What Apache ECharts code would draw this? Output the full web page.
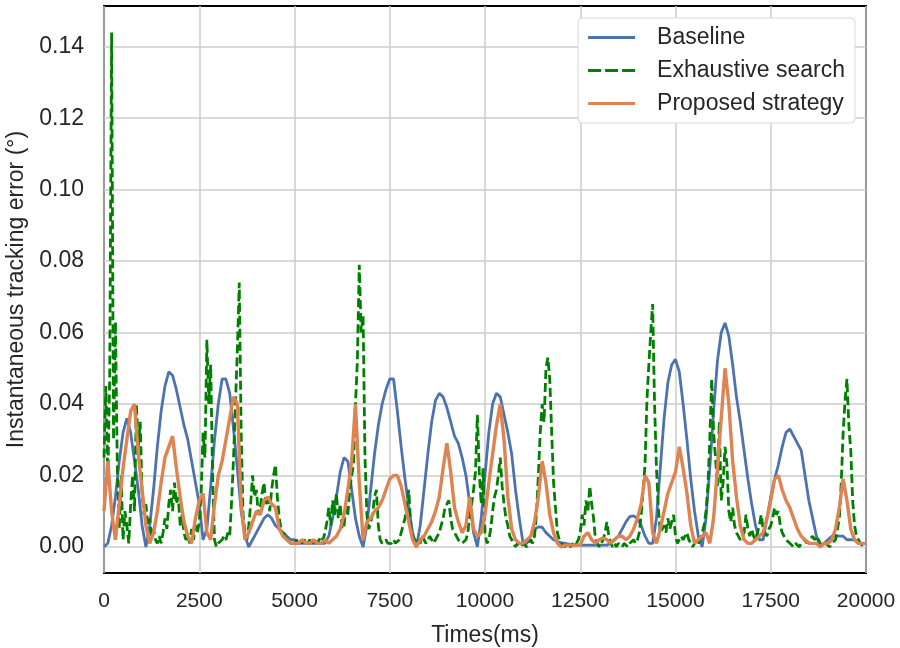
<!DOCTYPE html>
<html>
<head>
<meta charset="utf-8">
<script src="https://cdn.jsdelivr.net/npm/echarts@6/dist/echarts.min.js"></script>
<style>html,body{margin:0;padding:0;background:#fff}#c{width:900px;height:648px}</style>
</head>
<body>
<div id="c"></div>
<script>
// ---- data ----
const seriesNames = ['Baseline', 'Exhaustive search', 'Proposed strategy'];
const xTicks = [0, 2500, 5000, 7500, 10000, 12500, 15000, 17500, 20000];
const yTicks = [0, 0.02, 0.04, 0.06, 0.08, 0.10, 0.12, 0.14];
const baselineStep = 100;   // ms between baseline samples
const proposedStep = 100;   // ms between proposed samples
const exhaustiveStep = 50;  // ms between exhaustive samples

const baseline = [
0.000,0.001,0.006,0.014,0.024,0.032,0.036,0.032,0.024,0.016,0.006,0.000,0.006,0.016,0.028,0.038,0.045,0.049,0.048,0.044,0.039,0.034,0.030,0.024,0.018,
0.012,0.002,0.005,0.017,0.030,0.040,0.047,0.047,0.043,0.033,0.022,0.010,0.003,0.000,0.002,0.004,0.006,0.008,0.009,0.008,0.006,0.005,0.004,0.003,0.002,
0.002,0.001,0.001,0.001,0.001,0.001,0.001,0.001,0.001,0.003,0.008,0.014,0.021,0.025,0.024,0.016,0.008,0.003,0.000,0.006,0.016,0.026,0.034,0.040,0.044,
0.047,0.047,0.038,0.028,0.019,0.011,0.004,0.000,0.006,0.016,0.026,0.035,0.041,0.043,0.042,0.039,0.035,0.031,0.029,0.025,0.020,0.012,0.004,0.000,0.008,
0.020,0.032,0.040,0.043,0.042,0.037,0.032,0.026,0.016,0.008,0.001,0.001,0.003,0.005,0.0056,0.0055,0.004,0.003,0.002,0.0015,0.0012,0.001,0.0008,0.0006,0.0005,
0.0005,0.0005,0.0005,0.0005,0.0005,0.0005,0.0005,0.0005,0.001,0.002,0.003,0.005,0.007,0.0085,0.0087,0.008,0.006,0.003,0.001,0.001,0.008,0.022,0.036,0.046,0.051,
0.0525,0.049,0.040,0.030,0.019,0.010,0.003,0.000,0.008,0.022,0.038,0.052,0.060,0.0627,0.059,0.051,0.042,0.035,0.027,0.019,0.012,0.006,0.002,0.002,0.008,
0.014,0.019,0.023,0.028,0.032,0.033,0.031,0.029,0.027,0.020,0.013,0.008,0.003,0.000,0.001,0.002,0.003,0.003,0.003,0.003,0.002,0.002,0.002,0.001,0.001,0.001
];

const exhaustive = [
0.025,0.045,0.018,0.048,0.144,0.030,0.063,0.022,0.005,0.020,0.002,0.010,0.006,0.001,0.012,0.020,0.010,0.040,0.028,0.035,0.015,0.009,0.012,0.006,0.008,0.003,0.005,0.002,0.001,0.003,0.001,0.004,0.008,0.005,0.012,0.016,0.010,0.018,0.012,0.014,0.006,0.009,0.004,0.002,0.003,0.001,0.005,0.002,0.006,0.004,
0.007,0.015,0.032,0.025,0.058,0.040,0.051,0.020,0.002,0.000,0.001,0.001,0.002,0.003,0.002,0.004,0.003,0.013,0.025,0.040,0.055,0.074,0.032,0.009,0.004,0.002,0.006,0.012,0.020,0.014,0.016,0.009,0.011,0.015,0.018,0.012,0.014,0.010,0.016,0.020,0.023,0.014,0.008,0.005,0.003,0.004,0.002,0.002,0.001,0.001,
0.001,0.002,0.001,0.002,0.001,0.002,0.002,0.001,0.002,0.001,0.001,0.002,0.001,0.002,0.003,0.002,0.004,0.007,0.011,0.006,0.013,0.009,0.015,0.008,0.012,0.005,0.006,0.011,0.009,0.016,0.020,0.023,0.040,0.052,0.079,0.060,0.065,0.025,0.009,0.005,0.007,0.009,0.014,0.016,0.006,0.002,0.001,0.001,0.002,0.001,
0.001,0.001,0.002,0.001,0.001,0.002,0.004,0.006,0.008,0.012,0.016,0.006,0.003,0.002,0.001,0.002,0.001,0.003,0.002,0.001,0.002,0.003,0.002,0.001,0.002,0.003,0.004,0.006,0.008,0.011,0.012,0.013,0.008,0.005,0.004,0.003,0.002,0.002,0.001,0.001,0.002,0.004,0.009,0.012,0.016,0.021,0.037,0.021,0.012,0.022,
0.004,0.001,0.002,0.005,0.010,0.014,0.016,0.020,0.025,0.017,0.012,0.008,0.006,0.003,0.002,0.001,0.000,0.001,0.001,0.000,0.001,0.001,0.000,0.001,0.002,0.001,0.003,0.009,0.020,0.032,0.040,0.035,0.050,0.053,0.047,0.032,0.018,0.011,0.004,0.002,0.001,0.001,0.000,0.001,0.001,0.000,0.001,0.000,0.001,0.002,
0.004,0.009,0.006,0.013,0.010,0.017,0.012,0.008,0.002,0.001,0.000,0.001,0.002,0.004,0.007,0.003,0.001,0.000,0.001,0.000,0.001,0.001,0.000,0.001,0.001,0.000,0.001,0.001,0.002,0.001,0.002,0.004,0.009,0.016,0.023,0.041,0.051,0.060,0.068,0.040,0.022,0.011,0.004,0.005,0.006,0.004,0.008,0.005,0.007,0.009,
0.003,0.001,0.002,0.003,0.002,0.003,0.004,0.002,0.001,0.000,0.001,0.002,0.001,0.002,0.004,0.006,0.010,0.017,0.030,0.047,0.032,0.025,0.017,0.035,0.013,0.018,0.028,0.023,0.010,0.007,0.011,0.006,0.004,0.003,0.002,0.003,0.004,0.009,0.005,0.003,0.005,0.003,0.002,0.004,0.006,0.009,0.005,0.004,0.003,0.005,
0.006,0.008,0.011,0.009,0.010,0.006,0.004,0.003,0.002,0.002,0.001,0.001,0.000,0.001,0.001,0.000,0.001,0.001,0.002,0.001,0.002,0.002,0.003,0.002,0.003,0.002,0.001,0.000,0.000,0.001,0.001,0.000,0.001,0.001,0.002,0.005,0.008,0.018,0.032,0.041,0.047,0.034,0.027,0.013,0.006,0.003,0.002,0.001,0.001,0.000,0.000
];

const proposed = [
0.010,0.024,0.010,0.002,0.012,0.022,0.030,0.038,0.040,0.026,0.016,0.006,0.001,0.004,0.010,0.018,0.025,0.028,0.031,0.022,0.014,0.007,0.003,0.001,0.008,
0.013,0.015,0.004,0.002,0.012,0.020,0.024,0.030,0.036,0.042,0.040,0.012,0.002,0.004,0.007,0.010,0.009,0.013,0.014,0.012,0.011,0.005,0.003,0.002,0.001,
0.001,0.001,0.002,0.001,0.001,0.002,0.001,0.001,0.002,0.001,0.002,0.003,0.005,0.009,0.016,0.024,0.040,0.018,0.002,0.007,0.008,0.010,0.011,0.013,0.016,
0.019,0.020,0.020,0.017,0.012,0.007,0.002,0.000,0.002,0.003,0.005,0.007,0.010,0.014,0.022,0.029,0.021,0.011,0.007,0.004,0.006,0.014,0.005,0.003,0.004,
0.009,0.018,0.026,0.034,0.040,0.030,0.014,0.005,0.002,0.001,0.001,0.002,0.003,0.007,0.014,0.024,0.018,0.009,0.004,0.001,0.000,0.0005,0.0005,0.0005,0.0005,
0.0005,0.003,0.004,0.002,0.001,0.002,0.0025,0.002,0.001,0.002,0.003,0.003,0.002,0.003,0.005,0.008,0.012,0.020,0.018,0.004,0.001,0.005,0.010,0.015,0.018,
0.021,0.028,0.022,0.015,0.006,0.001,0.002,0.003,0.004,0.001,0.008,0.022,0.036,0.050,0.040,0.024,0.014,0.006,0.002,0.001,0.001,0.002,0.003,0.004,0.008,
0.013,0.019,0.020,0.016,0.013,0.011,0.008,0.005,0.003,0.002,0.001,0.001,0.001,0.000,0.001,0.001,0.002,0.005,0.011,0.019,0.013,0.005,0.002,0.001,0.001,0.001
];

// ---- build ----
function pairs(vals, step) { return vals.map((v, i) => [i * step, v]); }
const FONT = '"Liberation Sans", Arial, sans-serif';
const TXT = '#262626';
const colors = ['#4C72B0', '#008000', '#DD8452'];
const solidIcon = 'path://M0,0H47V3H0Z';
const dashIcon = 'path://M0,0H13V3H0Z M17,0H30V3H17Z M34,0H47V3H34Z';

const chart = echarts.init(document.getElementById('c'), null, { renderer: 'canvas' });
chart.setOption({
  animation: false,
  backgroundColor: '#ffffff',
  textStyle: { fontFamily: FONT },
  grid: { left: 104, right: 34, top: 6, bottom: 75, show: true, borderColor: '#000', borderWidth: 2,
          backgroundColor: 'transparent', containLabel: false, outerBoundsMode: 'none' },
  legend: {
    data: [
      { name: seriesNames[0], icon: solidIcon },
      { name: seriesNames[1], icon: dashIcon },
      { name: seriesNames[2], icon: solidIcon }
    ],
    right: 45, top: 18,
    orient: 'vertical',
    itemWidth: 47, itemHeight: 3, itemGap: 10,
    padding: [8, 10, 8, 10],
    backgroundColor: '#ffffff',
    borderColor: '#d9d9d9', borderWidth: 1, borderRadius: 4,
    textStyle: { fontSize: 23, color: TXT, fontFamily: FONT, padding: [0, 0, 0, 17] }
  },
  xAxis: {
    type: 'value', min: 0, max: 20000, interval: 2500,
    name: 'Times(ms)', nameLocation: 'middle', nameGap: 51,
    nameTextStyle: { fontSize: 23, color: TXT, fontFamily: FONT },
    axisLine: { show: false }, axisTick: { show: false },
    axisLabel: { fontSize: 21, color: TXT, margin: 18, fontFamily: FONT, formatter: v => String(v) },
    splitLine: { show: true, lineStyle: { color: '#cccccc', width: 1.5 } }
  },
  yAxis: {
    type: 'value', min: -0.0073, max: 0.1514,
    name: 'Instantaneous tracking error (°)', nameLocation: 'middle', nameGap: 76,
    nameTextStyle: { fontSize: 23, color: TXT, fontFamily: FONT },
    axisLine: { show: false },
    axisTick: { show: false, customValues: yTicks },
    axisLabel: { fontSize: 23, color: TXT, margin: 20, fontFamily: FONT, customValues: yTicks, formatter: v => v.toFixed(2) },
    splitLine: { show: true, lineStyle: { color: '#cccccc', width: 1.5 } }
  },
  series: [
    { name: seriesNames[0], type: 'line', data: pairs(baseline, baselineStep), symbol: 'none',
      lineStyle: { color: colors[0], width: 2.8 }, itemStyle: { color: colors[0] }, z: 2 },
    { name: seriesNames[1], type: 'line', data: pairs(exhaustive, exhaustiveStep), symbol: 'none',
      lineStyle: { color: colors[1], width: 2.8, type: [9, 4] }, itemStyle: { color: colors[1] }, z: 3 },
    { name: seriesNames[2], type: 'line', data: pairs(proposed, proposedStep), symbol: 'none',
      lineStyle: { color: colors[2], width: 3.4 }, itemStyle: { color: colors[2] }, z: 4 }
  ]
});
</script>
</body>
</html>
